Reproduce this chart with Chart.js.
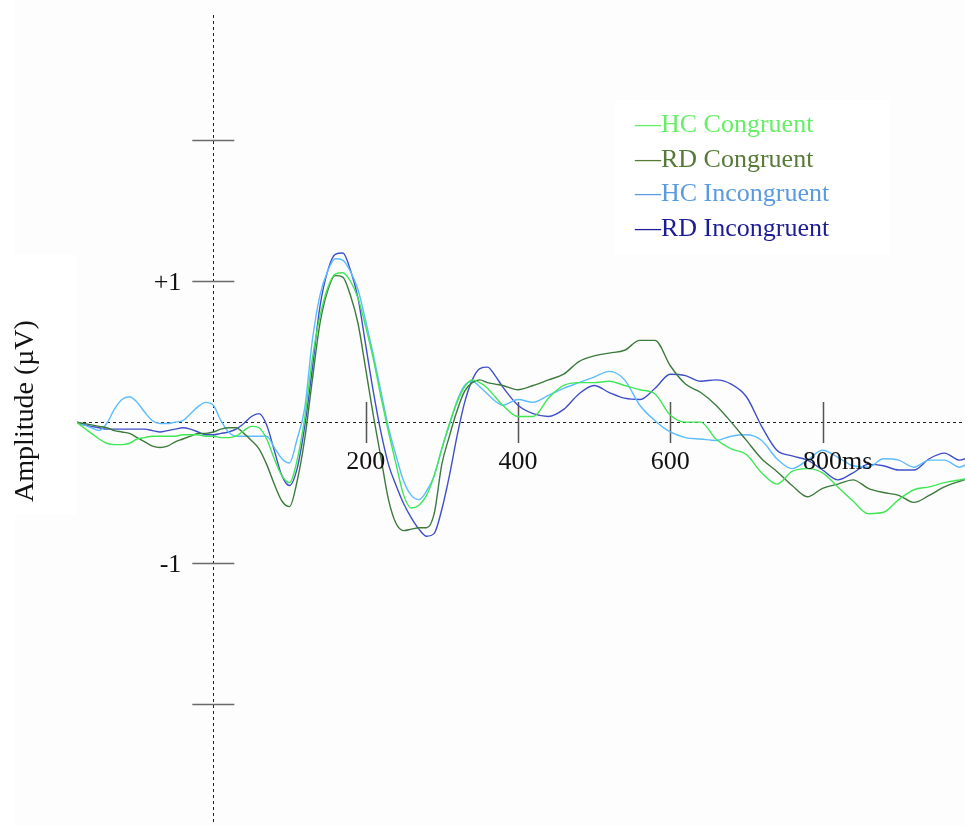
<!DOCTYPE html>
<html>
<head>
<meta charset="utf-8">
<title>ERP waveforms</title>
<script src="https://cdn.jsdelivr.net/npm/chart.js@4.4.1/dist/chart.umd.min.js"></script>
<style>
    body { margin: 0; background: #ffffff; }
    #wrap { width: 965px; height: 827px; position: relative; }
</style>
</head>
<body>
<div id="wrap"><canvas id="erpChart"></canvas></div>
<script>
// time points (ms)
const times = [
    -180, -170, -160, -150, -140, -130, -120, -110, -100, -90, -80, -70, -60, -50, -40, -30, -20, -10,
    0, 10, 20, 30, 40, 50, 60, 70, 80, 90, 100, 110, 120, 130, 140, 150, 160, 170, 180, 190,
    200, 210, 220, 230, 240, 250, 260, 270, 280, 290, 300, 310, 320, 330, 340, 350, 360, 370, 380,
    400, 420, 440, 460, 480, 500, 520, 540, 560, 580, 600, 620, 640, 660, 680, 700, 720, 740, 760, 780,
    800, 820, 840, 860, 880, 900, 920, 940, 960, 980, 992
];

// amplitudes (µV)
const hcCongruent = [
    0.00, -0.04, -0.08, -0.12, -0.15, -0.16, -0.16, -0.15, -0.12, -0.11, -0.10, -0.10, -0.10, -0.10, -0.09, -0.09, -0.09, -0.10,
    -0.10, -0.11, -0.11, -0.10, -0.06, -0.03, -0.04, -0.12, -0.26, -0.38, -0.43, -0.27, 0.03, 0.45, 0.75, 0.95, 1.05, 1.06, 1.00, 0.88,
    0.68, 0.45, 0.18, -0.07, -0.30, -0.52, -0.61, -0.59, -0.52, -0.38, -0.19, -0.01, 0.14, 0.25, 0.30, 0.28, 0.24, 0.18, 0.12,
    0.04, 0.04, 0.17, 0.26, 0.28, 0.28, 0.29, 0.26, 0.23, 0.20, 0.05, 0.00, 0.00, -0.12, -0.19, -0.23, -0.36, -0.44, -0.35, -0.33,
    -0.36, -0.46, -0.56, -0.65, -0.64, -0.55, -0.48, -0.46, -0.43, -0.41, -0.40
];
const rdCongruent = [
    0.00, -0.01, -0.02, -0.03, -0.04, -0.06, -0.07, -0.08, -0.11, -0.14, -0.17, -0.18, -0.17, -0.14, -0.12, -0.10, -0.08, -0.08,
    -0.07, -0.05, -0.04, -0.04, -0.08, -0.13, -0.19, -0.30, -0.44, -0.56, -0.60, -0.42, -0.12, 0.30, 0.70, 0.93, 1.04, 1.03, 0.90, 0.70,
    0.38, 0.05, -0.25, -0.55, -0.72, -0.77, -0.76, -0.75, -0.75, -0.65, -0.30, -0.10, 0.08, 0.22, 0.28, 0.30, 0.28, 0.27, 0.26,
    0.23, 0.26, 0.30, 0.34, 0.43, 0.47, 0.49, 0.51, 0.58, 0.58, 0.40, 0.27, 0.21, 0.12, 0.00, -0.13, -0.26, -0.35, -0.45, -0.53,
    -0.47, -0.44, -0.41, -0.47, -0.50, -0.52, -0.57, -0.52, -0.46, -0.42, -0.40
];
const hcIncongruent = [
    0.00, -0.02, -0.04, -0.06, -0.01, 0.09, 0.16, 0.18, 0.14, 0.07, 0.01, -0.01, -0.01, 0.00, 0.01, 0.06, 0.11, 0.14,
    0.12, 0.01, -0.07, -0.10, -0.10, -0.10, -0.10, -0.10, -0.18, -0.26, -0.29, -0.12, 0.10, 0.58, 0.90, 1.07, 1.16, 1.15, 1.07, 0.94,
    0.72, 0.48, 0.22, -0.04, -0.24, -0.42, -0.52, -0.55, -0.49, -0.38, -0.19, -0.02, 0.15, 0.26, 0.29, 0.25, 0.20, 0.15, 0.12,
    0.16, 0.14, 0.19, 0.24, 0.28, 0.32, 0.36, 0.30, 0.12, 0.01, -0.07, -0.11, -0.12, -0.13, -0.10, -0.09, -0.13, -0.26, -0.33, -0.27,
    -0.20, -0.25, -0.31, -0.32, -0.26, -0.27, -0.32, -0.27, -0.27, -0.32, -0.29
];
const rdIncongruent = [
    0.00, -0.02, -0.03, -0.04, -0.05, -0.05, -0.05, -0.05, -0.05, -0.05, -0.06, -0.07, -0.06, -0.05, -0.04, -0.05, -0.07, -0.09,
    -0.09, -0.08, -0.07, -0.05, -0.01, 0.04, 0.06, -0.02, -0.20, -0.38, -0.45, -0.33, -0.03, 0.38, 0.82, 1.07, 1.19, 1.20, 1.08, 0.88,
    0.55, 0.22, -0.07, -0.30, -0.45, -0.58, -0.68, -0.76, -0.81, -0.79, -0.62, -0.38, -0.10, 0.14, 0.30, 0.38, 0.39, 0.33, 0.25,
    0.12, 0.06, 0.04, 0.09, 0.20, 0.26, 0.21, 0.17, 0.16, 0.24, 0.34, 0.33, 0.29, 0.30, 0.27, 0.18, -0.03, -0.20, -0.24, -0.27,
    -0.34, -0.41, -0.36, -0.30, -0.31, -0.34, -0.34, -0.26, -0.22, -0.27, -0.25
];

// series names and colours
const seriesNames = ['HC Congruent', 'RD Congruent', 'HC Incongruent', 'RD Incongruent'];
const lineColors = ['#3ee855', '#3d7a3d', '#5cbcff', '#3f4fc8'];
const labelColors = ['#66ee66', '#587a37', '#5a9ae0', '#1c1c96'];

// axis ticks
const xTickValues = [200, 400, 600, 800];
const xTickLabels = ['200', '400', '600', '800'];
const xUnit = 'ms';
const yTickValues = [2, 1, -1, -2];
const yTickLabels = ['', '+1', '-1', ''];
const yAxisTitle = 'Amplitude (µV)';

const seriesValues = [hcCongruent, rdCongruent, hcIncongruent, rdIncongruent];
const SERIF = '"Liberation Serif", "Times New Roman", serif';

// 🎨 background, dotted zero lines and tick marks
const erpAxes = {
    id: 'erpAxes',
    beforeDraw(chart) {
        const ctx = chart.ctx;
        ctx.save();
        ctx.fillStyle = '#ffffff';
        ctx.fillRect(0, 0, chart.width, chart.height);
        ctx.fillStyle = '#fdfdfd';
        ctx.fillRect(15, 0, chart.width - 15, chart.height - 1);
        ctx.fillStyle = '#ffffff';
        ctx.fillRect(615, 100, 275, 155);
        ctx.fillRect(0, 255, 77, 260);
        ctx.restore();
    },
    beforeDatasetsDraw(chart) {
        const { ctx, chartArea, scales: { x, y } } = chart;
        const x0 = x.getPixelForValue(0);
        const y0 = y.getPixelForValue(0);
        ctx.save();
        // dotted zero lines
        ctx.strokeStyle = '#222222';
        ctx.lineWidth = 1;
        ctx.setLineDash([3, 3]);
        ctx.beginPath();
        ctx.moveTo(Math.round(x0) + 0.5, chartArea.top);
        ctx.lineTo(Math.round(x0) + 0.5, chartArea.bottom);
        ctx.moveTo(chartArea.left, Math.round(y0) + 0.5);
        ctx.lineTo(chartArea.right, Math.round(y0) + 0.5);
        ctx.stroke();
        ctx.setLineDash([]);
        // y tick marks
        ctx.strokeStyle = '#6a6a6a';
        ctx.lineWidth = 1.5;
        ctx.beginPath();
        yTickValues.forEach(v => {
            const py = Math.round(y.getPixelForValue(v)) + 0.5;
            ctx.moveTo(x0 - 21, py);
            ctx.lineTo(x0 + 21, py);
        });
        ctx.stroke();
        // x tick marks
        ctx.strokeStyle = '#555555';
        ctx.beginPath();
        xTickValues.forEach(v => {
            const px = Math.round(x.getPixelForValue(v)) + 0.5;
            ctx.moveTo(px, y0 - 20);
            ctx.lineTo(px, y0 + 21);
        });
        ctx.stroke();
        ctx.restore();
    },
    afterDatasetsDraw(chart) {
        const { ctx, scales: { x, y } } = chart;
        const x0 = x.getPixelForValue(0);
        const y0 = y.getPixelForValue(0);
        ctx.save();
        ctx.fillStyle = '#111111';
        ctx.textBaseline = 'middle';
        // y tick labels
        ctx.font = '26px ' + SERIF;
        ctx.textAlign = 'right';
        yTickValues.forEach((v, i) => {
            if (yTickLabels[i]) ctx.fillText(yTickLabels[i], x0 - 32, y.getPixelForValue(v) + 2);
        });
        // x tick labels, last one carries the unit
        ctx.textAlign = 'left';
        xTickValues.forEach((v, i) => {
            const w = ctx.measureText(xTickLabels[i]).width;
            const txt = i === xTickValues.length - 1 ? xTickLabels[i] + xUnit : xTickLabels[i];
            ctx.fillText(txt, x.getPixelForValue(v) - w / 2, y0 + 40);
        });
        // y axis title
        ctx.save();
        ctx.translate(26, 411);
        ctx.rotate(-Math.PI / 2);
        ctx.textAlign = 'center';
        ctx.font = '28px ' + SERIF;
        ctx.fillText(yAxisTitle, 0, 0);
        ctx.restore();
        // legend
        ctx.font = '26px ' + SERIF;
        ctx.textAlign = 'left';
        seriesNames.forEach((name, i) => {
            ctx.fillStyle = labelColors[i];
            ctx.fillText('\u2014' + name, 635, 125 + i * 34.7);
        });
        ctx.restore();
    }
};

const ctx = document.getElementById('erpChart').getContext('2d');
const erpChart = new Chart(ctx, {
    type: 'line',
    data: {
        datasets: seriesNames.map((name, i) => ({
            label: name,
            data: times.map((t, j) => ({ x: t, y: seriesValues[i][j] })),
            borderColor: lineColors[i],
            borderWidth: 1.4,
            pointRadius: 0,
            fill: false,
            cubicInterpolationMode: 'monotone'
        }))
    },
    options: {
        responsive: true,
        maintainAspectRatio: false,
        animation: false,
        layout: { padding: { left: 77, right: 0, top: 15, bottom: 2 } },
        plugins: { legend: { display: false }, tooltip: { enabled: false } },
        scales: {
            x: { type: 'linear', min: -179, max: 987, display: false },
            y: { min: -2.86, max: 2.89, display: false }
        }
    },
    plugins: [erpAxes]
});
</script>
</body>
</html>
